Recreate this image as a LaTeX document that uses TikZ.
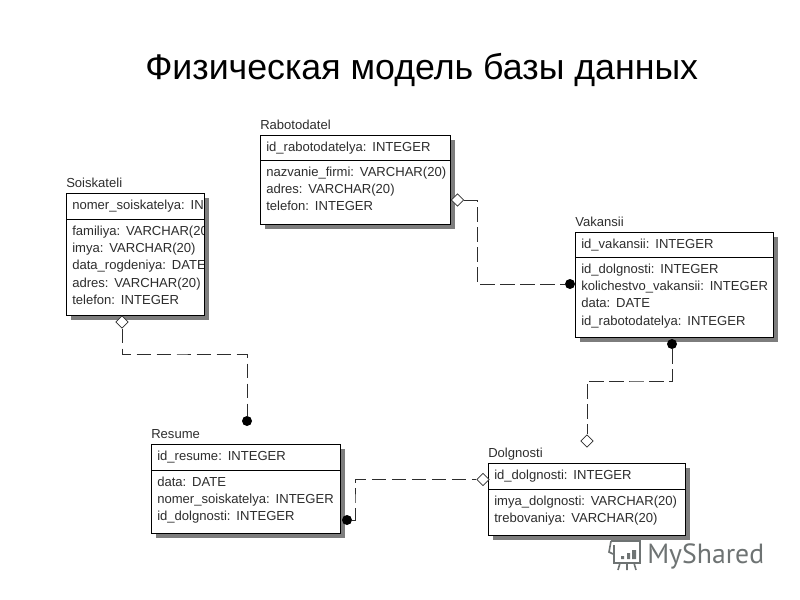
\documentclass[tikz,border=0pt]{standalone}
\usepackage{fontspec}
\setmainfont{Liberation Sans}
\newfontfamily\logoFont{PT Sans}
\usetikzlibrary{positioning, shapes.geometric}
\definecolor{textColor}{RGB}{45,45,45}
\definecolor{shadowColor}{RGB}{125,125,125}
\definecolor{logoColor}{RGB}{110,115,115}
\newcommand{\wideSpaces}{\spaceskip 3.5pt\relax}
\tikzstyle{diagram} = [x = .75pt, y = -.75pt]
\tikzstyle{entityStyle} = [draw=black, fill=white, line width=.8pt, inner sep=0, anchor=north west]
\tikzstyle{entityShadow} = [fill=shadowColor]
\tikzstyle{entityLine} = [color=black, line width=.7pt]
\tikzstyle{titleText} = [font=\fontsize{26.8}{30}\selectfont, color=black, inner sep=0, anchor=base west]
\tikzstyle{nameText} = [font=\fontsize{9.8}{13}\selectfont, color=textColor, inner sep=0, anchor=base west]
\tikzstyle{fieldText} = [font=\fontsize{9.8}{13}\selectfont, color=textColor, inner sep=0, anchor=north west, align=left, execute at begin node=\wideSpaces]
\tikzstyle{relationLine} = [color=textColor, line width=.75pt, dash pattern=on 11pt off 4pt]
\tikzstyle{linkOpen} = [diamond, draw=textColor, fill=white, line width=.6pt, inner sep=0, minimum size=9.5pt]
\tikzstyle{linkFull} = [circle, fill=black, inner sep=0, minimum size=7.5pt]
\tikzstyle{logoLine} = [color=logoColor, line width=1.2pt]
% name, x, y, width, height, key height, title, key, other fields
\newcommand{\entityBox}[9]{
  \fill [entityShadow] (#2 + 5, #3 + 5) rectangle + (#4, #5);
  \node [entityStyle, minimum width={#4 * .75pt}, minimum height={#5 * .75pt}] (#1) at (#2, #3) {};
  \draw [entityLine] (#2, #3 + #6) -- + (#4, 0);
  \node [nameText] (#1Title) at (#2, #3 - 6) {#7};
  \begin{scope}
    \clip (#2, #3) rectangle + (#4 - 1, #5);
    \node [fieldText] (#1Key) at (#2 + 6, #3 + 6.5) {#8};
    \node [fieldText] (#1Fields) at (#2 + 6, #3 + #6 + 6.5) {#9};
  \end{scope}
}
\begin{document}
\begin{tikzpicture}[diagram]
  \useasboundingbox (0, 0) rectangle (800, 600);
  \node [titleText] (title) at (145, 79) {Физическая модель базы данных};

  \entityBox{soiskateli}{66}{193}{138}{122}{26}{Soiskateli}{nomer\_soiskatelya: INTEGER}
    {familiya: VARCHAR(20)\\imya: VARCHAR(20)\\data\_rogdeniya: DATE\\adres: VARCHAR(20)\\telefon: INTEGER}
  \entityBox{rabotodatel}{260}{135}{190}{89}{25}{Rabotodatel}{id\_rabotodatelya: INTEGER}
    {nazvanie\_firmi: VARCHAR(20)\\adres: VARCHAR(20)\\telefon: INTEGER}
  \entityBox{vakansii}{575}{232}{198}{105}{25}{Vakansii}{id\_vakansii: INTEGER}
    {id\_dolgnosti: INTEGER\\kolichestvo\_vakansii: INTEGER\\data: DATE\\id\_rabotodatelya: INTEGER}
  \entityBox{resume}{151}{444}{189}{89}{26}{Resume}{id\_resume: INTEGER}
    {data: DATE\\nomer\_soiskatelya: INTEGER\\id\_dolgnosti: INTEGER}
  \entityBox{dolgnosti}{488}{463}{197}{72}{26}{Dolgnosti}{id\_dolgnosti: INTEGER}
    {imya\_dolgnosti: VARCHAR(20)\\trebovaniya: VARCHAR(20)}

  \coordinate (soiskateliBend) at (185, 354);
  \coordinate (rabotodatelBend) at (477, 242);
  \coordinate (vakansiiBend) at (630, 381);
  \coordinate (resumeBend) at (355, 500);

  \node [linkOpen] (soiskateliLink) at (122, 322) {};
  \node [linkFull] (resumeTop) at (247, 421) {};
  \node [linkOpen] (rabotodatelLink) at (457.5, 200) {};
  \node [linkFull] (vakansiiLeft) at (570, 284) {};
  \node [linkFull] (vakansiiBottom) at (672, 344) {};
  \node [linkOpen] (dolgnostiTop) at (587, 441) {};
  \node [linkFull] (resumeRight) at (347, 520) {};
  \node [linkOpen] (dolgnostiLeft) at (483, 479.5) {};

  \draw [relationLine] (soiskateliLink) |- (soiskateliBend) -| (resumeTop);
  \draw [relationLine] (rabotodatelLink) -| (rabotodatelBend) |- (vakansiiLeft);
  \draw [relationLine] (vakansiiBottom) |- (vakansiiBend) -| (dolgnostiTop);
  \draw [relationLine] (resumeRight) -| (resumeBend) |- (dolgnostiLeft);

  % watermark
  \node [font=\logoFont\fontsize{20.8}{24}\selectfont, color=logoColor, inner sep=0, anchor=base west] (logoText) at (647, 563) {MyShared};
  \draw [logoLine] (611, 541) -- (640, 541) -- (640, 563) -- (614, 563) -- (614, 545) (611, 541) -- (609, 552) -- (613, 554);
  \draw [logoLine] (620, 563) -- (618, 570) (627, 563) -- (627, 570) (634, 563) -- (636, 570);
  \fill [logoColor] (621, 556) rectangle + (3, 3) (627, 553) rectangle + (3, 6) (632, 550) rectangle + (4, 9);
\end{tikzpicture}
\end{document}
